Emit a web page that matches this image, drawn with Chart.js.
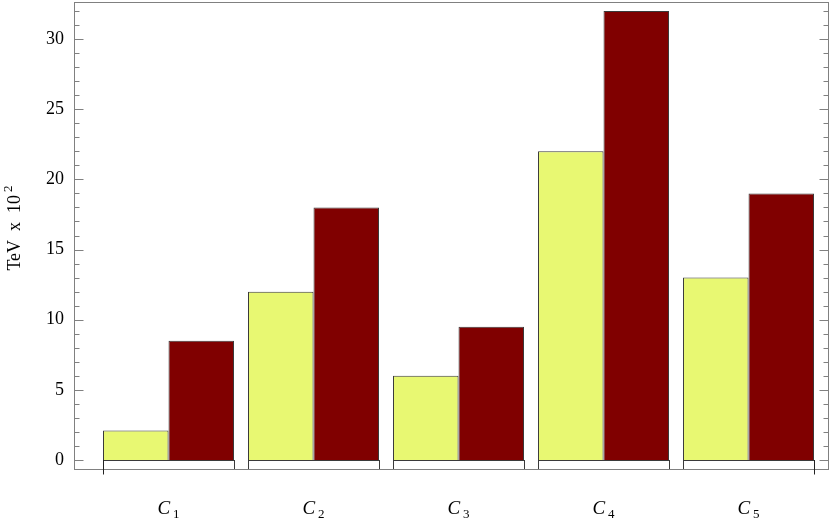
<!DOCTYPE html>
<html>
<head>
<meta charset="utf-8">
<script src="https://cdn.jsdelivr.net/npm/chart.js@4"></script>
<style>
  html, body { margin: 0; padding: 0; background: #fff; }
  #wrap { width: 830px; height: 522px; }
</style>
</head>
<body>
<div id="wrap"><canvas id="chart"></canvas></div>
<script>
const categories = ['1', '2', '3', '4', '5'];
const seriesA = [2.1, 12, 6, 22, 13];
const seriesB = [8.5, 18, 9.5, 32, 19];
const yTitle = 'TeV  x  10';
const yTitleExp = '2';

const FONT = "'Liberation Serif', 'Times New Roman', serif";
const frameColor = '#808080';
const edgeColor = '#3a3a3a';

// frame, inward ticks, white boxes under each group, category labels, axis title
const decorations = {
    id: 'decorations',
    beforeDatasetsDraw(chart) {
        const { ctx, chartArea: a, scales: { y } } = chart;
        const m0 = chart.getDatasetMeta(0), m1 = chart.getDatasetMeta(1);
        const y0 = y.getPixelForValue(0);
        ctx.save();
        ctx.lineWidth = 1;
        ctx.strokeStyle = edgeColor;
        ctx.fillStyle = '#fff';
        m0.data.forEach((bar, i) => {
            const left = bar.x - bar.width / 2;
            const right = m1.data[i].x + m1.data[i].width / 2;
            ctx.fillRect(left, y0, right - left, a.bottom - y0);
            ctx.strokeRect(Math.round(left) + 0.5, Math.round(y0) + 0.5, Math.round(right - left), Math.round(a.bottom - y0));
        });
        ctx.restore();
    },
    afterDraw(chart) {
        const { ctx, chartArea: a, scales: { x, y } } = chart;
        ctx.save();
        ctx.lineWidth = 1;
        ctx.strokeStyle = frameColor;
        const L = Math.round(a.left) + 0.5, R = Math.round(a.right) - 0.5;
        const T = Math.round(a.top) + 0.5, B = Math.round(a.bottom) + 0.5;
        ctx.strokeRect(L, T, R - L, B - T);

        ctx.beginPath();
        for (let v = 0; v <= 32; v++) {
            const py = Math.round(y.getPixelForValue(v)) + 0.5;
            const len = v % 5 === 0 ? 9 : 5;
            ctx.moveTo(L, py); ctx.lineTo(L + len, py);
            ctx.moveTo(R, py); ctx.lineTo(R - len, py);
        }
        ctx.stroke();

        // outer group edge ticks below the axis
        const m0 = chart.getDatasetMeta(0), m1 = chart.getDatasetMeta(1);
        const first = m0.data[0], last = m1.data[m1.data.length - 1];
        const xl = Math.round(first.x - first.width / 2) + 0.5;
        const xr = Math.round(last.x + last.width / 2) + 0.5;
        ctx.strokeStyle = '#222';
        ctx.beginPath();
        ctx.moveTo(xl, Math.round(y.getPixelForValue(0))); ctx.lineTo(xl, B + 5);
        ctx.moveTo(xr, Math.round(y.getPixelForValue(0))); ctx.lineTo(xr, B + 5);
        ctx.stroke();

        // category labels C with subscript index
        ctx.fillStyle = '#000';
        ctx.textBaseline = 'alphabetic';
        ctx.textAlign = 'left';
        categories.forEach((c, i) => {
            const cx = x.getPixelForValue(i);
            ctx.font = 'italic 19px ' + FONT;
            const wC = ctx.measureText('C').width;
            ctx.font = '13px ' + FONT;
            const wS = ctx.measureText(c).width;
            const start = cx - (wC + 3 + wS) / 2;
            ctx.font = 'italic 19px ' + FONT;
            ctx.fillText('C', start, 514);
            ctx.font = '13px ' + FONT;
            ctx.fillText(c, start + wC + 3, 518);
        });

        // rotated y axis title with superscript
        ctx.translate(20, 228);
        ctx.rotate(-Math.PI / 2);
        ctx.font = '18px ' + FONT;
        const wT = ctx.measureText(yTitle).width;
        ctx.font = '13px ' + FONT;
        const wE = ctx.measureText(yTitleExp).width;
        const s = -(wT + 3 + wE) / 2;
        ctx.font = '18px ' + FONT;
        ctx.fillText(yTitle, s, 0);
        ctx.font = '13px ' + FONT;
        ctx.fillText(yTitleExp, s + wT + 3, -8);
        ctx.restore();
    }
};

new Chart(document.getElementById('chart'), {
    type: 'bar',
    data: {
        datasets: [
            {
                data: seriesA.map((v, i) => ({ x: i, y: v })),
                backgroundColor: '#E8F872',
                borderColor: edgeColor,
                borderWidth: 1
            },
            {
                data: seriesB.map((v, i) => ({ x: i, y: v })),
                backgroundColor: '#800000',
                borderColor: edgeColor,
                borderWidth: 1
            }
        ]
    },
    options: {
        responsive: true,
        maintainAspectRatio: false,
        animation: false,
        categoryPercentage: 0.9034,
        barPercentage: 1,
        layout: { padding: { top: 2, right: 1, left: 0, bottom: 0 } },
        plugins: { legend: { display: false }, tooltip: { enabled: false } },
        scales: {
            x: {
                type: 'linear',
                offset: false,
                min: -0.6517,
                max: 4.555,
                grid: { display: false, offset: false },
                border: { display: false },
                ticks: { display: false, stepSize: 1, includeBounds: false },
                afterFit(s) { s.height = 53; s.paddingLeft = 0; s.paddingRight = 0; }
            },
            y: {
                min: -0.64,
                max: 32.64,
                grid: { display: false, drawTicks: false },
                border: { display: false },
                ticks: {
                    stepSize: 5,
                    includeBounds: false,
                    padding: 10,
                    color: '#000',
                    font: { family: FONT, size: 18 }
                },
                afterFit(s) { s.width = 74; s.paddingTop = 0; s.paddingBottom = 0; }
            }
        }
    },
    plugins: [decorations]
});
</script>
</body>
</html>
